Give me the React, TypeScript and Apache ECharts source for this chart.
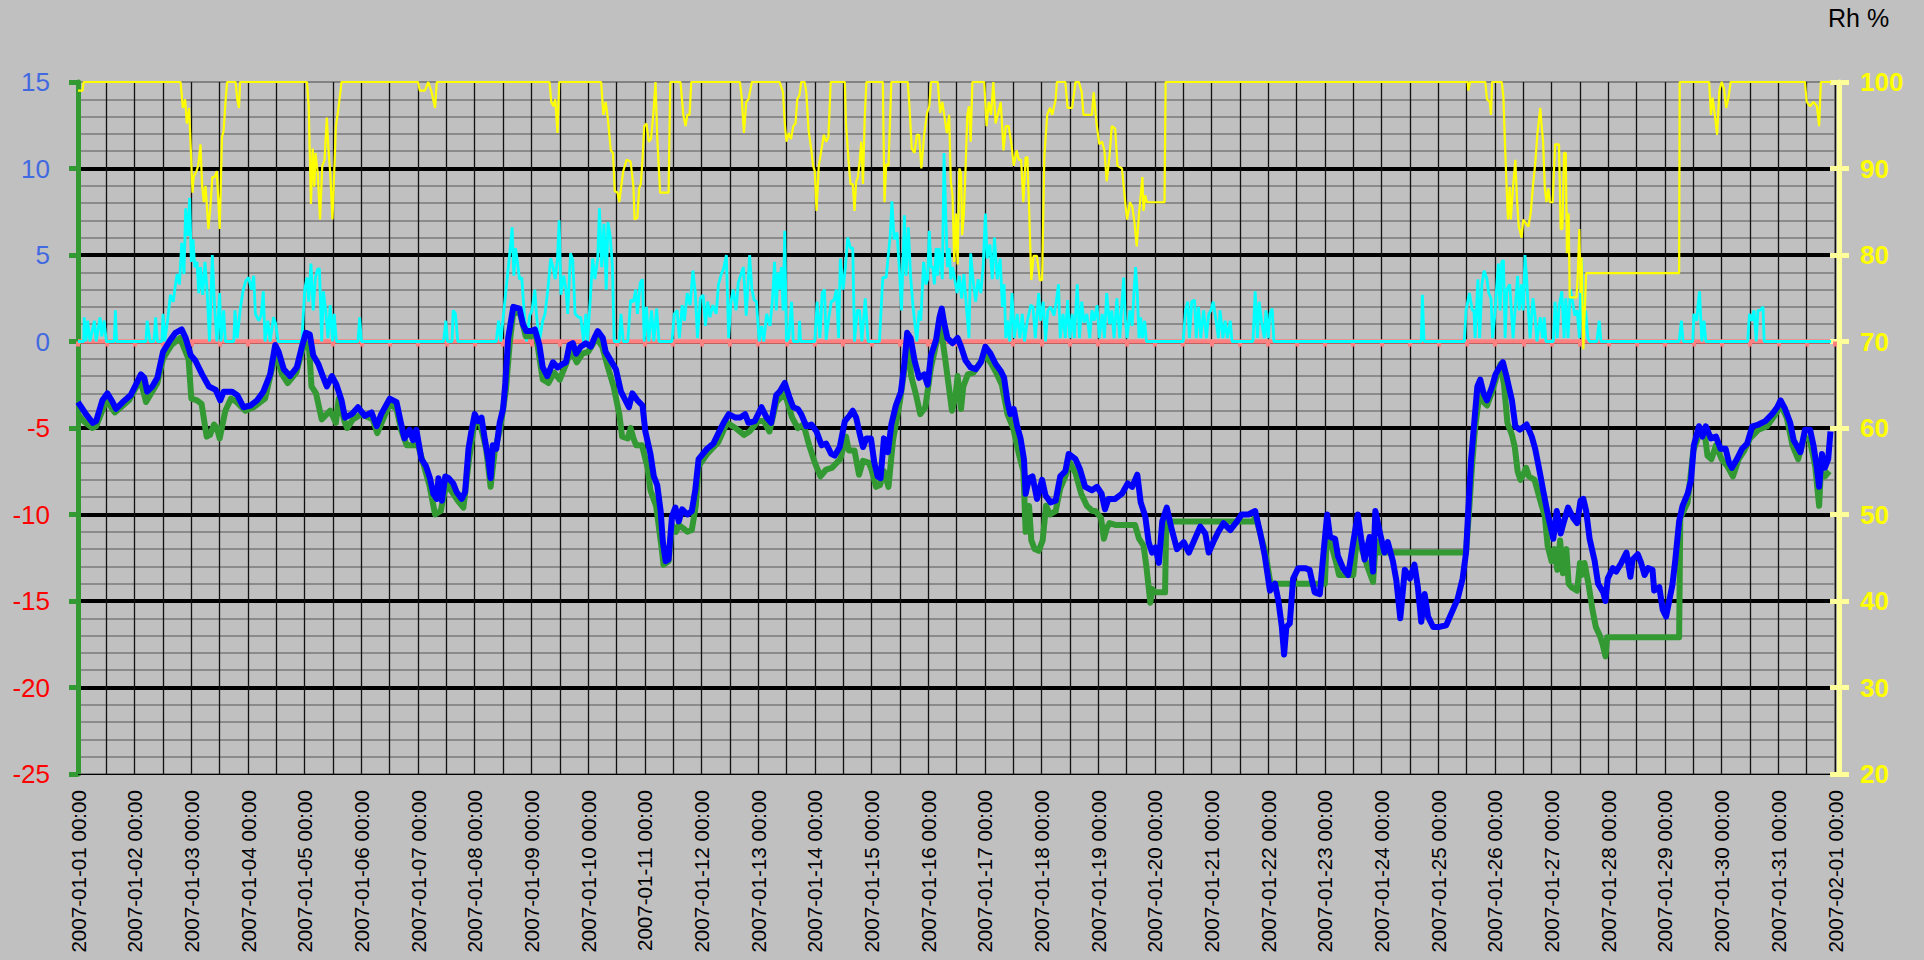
import React, { useEffect, useRef } from "react";
import * as echarts from "echarts";

// x values are days since 2007-01-01 00:00
const START_UTC = Date.UTC(2007, 0, 1);
const DAYS = 31;

// Air temperature (blue), left axis, °C
const tempBlue: [number, number][] = [
  [0.0,-3.5],[0.14,-4.2],[0.26,-4.7],[0.32,-4.6],[0.43,-3.4],[0.52,-3.0],[0.61,-3.5],[0.67,-3.9],[0.79,-3.5],[0.93,-3.1],
  [1.02,-2.5],[1.11,-1.9],[1.17,-2.1],[1.22,-2.9],[1.31,-2.6],[1.40,-2.1],[1.50,-0.6],[1.63,0.1],[1.72,0.5],[1.83,0.7],
  [1.90,0.2],[1.99,-0.8],[2.07,-1.1],[2.19,-1.9],[2.31,-2.6],[2.43,-2.8],[2.51,-3.4],[2.57,-2.9],[2.72,-2.9],[2.81,-3.1],
  [2.92,-3.8],[3.04,-3.7],[3.16,-3.4],[3.27,-2.9],[3.39,-1.9],[3.48,-0.2],[3.54,-0.6],[3.63,-1.6],[3.74,-2.0],[3.86,-1.5],
  [3.95,-0.3],[4.02,0.5],[4.09,0.4],[4.15,-0.8],[4.24,-1.3],[4.33,-2.1],[4.39,-2.6],[4.48,-2.0],[4.56,-2.5],[4.65,-3.4],
  [4.71,-4.4],[4.83,-4.2],[4.94,-3.8],[5.06,-4.3],[5.18,-4.1],[5.27,-4.9],[5.35,-4.2],[5.50,-3.3],[5.62,-3.5],[5.71,-4.9],
  [5.76,-5.6],[5.85,-5.1],[5.91,-5.7],[5.97,-5.1],[6.06,-6.8],[6.14,-7.2],[6.21,-7.9],[6.27,-8.8],[6.33,-9.1],[6.36,-7.9],
  [6.42,-9.2],[6.48,-7.8],[6.54,-7.9],[6.62,-8.2],[6.68,-8.7],[6.77,-9.1],[6.83,-8.7],[6.89,-6.2],[6.94,-5.2],[7.0,-4.2],
  [7.06,-4.6],[7.12,-4.4],[7.18,-5.7],[7.24,-6.8],[7.28,-7.9],[7.32,-6.0],[7.38,-6.2],[7.44,-4.7],[7.5,-3.9],[7.54,-2.4],
  [7.59,0.2],[7.68,2.0],[7.79,1.9],[7.85,1.0],[7.91,0.6],[8.0,0.6],[8.06,0.7],[8.14,-0.2],[8.2,-1.5],[8.28,-2.0],
  [8.38,-1.2],[8.46,-1.5],[8.55,-1.3],[8.61,-1.2],[8.67,-0.2],[8.73,-0.1],[8.79,-0.7],[8.87,-0.3],[8.96,-0.1],[9.05,-0.3],
  [9.11,0.2],[9.17,0.6],[9.26,0.2],[9.31,-0.6],[9.4,-1.1],[9.49,-1.6],[9.58,-2.9],[9.66,-3.4],[9.72,-3.8],[9.78,-3.0],
  [9.87,-3.4],[9.96,-3.7],[10.01,-5.2],[10.1,-6.5],[10.16,-7.8],[10.22,-8.3],[10.28,-9.8],[10.32,-11.6],[10.37,-12.7],[10.42,-12.6],
  [10.48,-10.1],[10.54,-9.6],[10.6,-10.4],[10.66,-9.7],[10.75,-10.0],[10.83,-9.8],[10.89,-8.6],[10.95,-6.8],[11.1,-6.2],[11.21,-5.9],
  [11.3,-5.3],[11.39,-4.7],[11.48,-4.2],[11.6,-4.4],[11.68,-4.4],[11.77,-4.2],[11.83,-4.7],[11.94,-4.6],[12.06,-3.8],[12.15,-4.4],
  [12.23,-4.7],[12.32,-3.1],[12.38,-2.9],[12.47,-2.4],[12.56,-3.3],[12.62,-3.8],[12.7,-3.9],[12.76,-4.2],[12.85,-4.9],[12.94,-4.8],
  [13.03,-5.2],[13.12,-6.0],[13.2,-5.9],[13.29,-6.5],[13.35,-6.6],[13.44,-6.1],[13.53,-4.6],[13.61,-4.3],[13.67,-4.0],[13.73,-4.4],
  [13.79,-5.3],[13.85,-6.1],[13.91,-5.6],[13.99,-5.6],[14.05,-7.0],[14.11,-7.8],[14.16,-7.9],[14.22,-5.6],[14.29,-6.4],[14.35,-4.8],
  [14.43,-3.7],[14.52,-2.9],[14.58,-1.3],[14.63,0.5],[14.69,0.2],[14.76,-1.1],[14.84,-2.1],[14.93,-1.9],[14.99,-2.5],[15.05,-0.8],
  [15.14,0.1],[15.2,1.4],[15.24,1.9],[15.28,1.1],[15.34,0.2],[15.43,-0.1],[15.52,0.2],[15.58,-0.3],[15.66,-1.1],[15.75,-1.5],
  [15.84,-1.6],[15.93,-1.2],[16.01,-0.3],[16.1,-0.7],[16.19,-1.3],[16.28,-1.7],[16.34,-2.1],[16.4,-3.5],[16.45,-4.2],[16.51,-3.9],
  [16.57,-4.9],[16.63,-5.6],[16.69,-6.8],[16.72,-8.8],[16.78,-7.9],[16.84,-7.8],[16.92,-9.1],[17.01,-8.0],[17.07,-8.9],[17.16,-9.3],
  [17.25,-9.2],[17.33,-7.8],[17.42,-7.5],[17.48,-6.5],[17.6,-6.8],[17.68,-7.4],[17.77,-8.4],[17.89,-8.6],[17.98,-8.4],[18.06,-8.8],
  [18.12,-9.7],[18.18,-9.1],[18.3,-9.1],[18.42,-8.8],[18.52,-8.2],[18.6,-8.4],[18.69,-7.7],[18.75,-9.3],[18.83,-10.1],[18.89,-11.6],
  [18.95,-12.2],[19.01,-11.9],[19.07,-12.8],[19.13,-10.4],[19.21,-9.6],[19.3,-10.9],[19.39,-12.0],[19.51,-11.6],[19.6,-12.2],[19.68,-11.6],
  [19.8,-10.7],[19.89,-11.1],[19.95,-12.2],[20.03,-11.6],[20.12,-11.0],[20.21,-10.5],[20.33,-10.9],[20.45,-10.4],[20.53,-10.0],[20.65,-10.0],
  [20.77,-9.8],[20.86,-11.1],[20.94,-12.4],[21.03,-14.4],[21.12,-14.0],[21.18,-15.0],[21.24,-16.5],[21.28,-18.1],[21.32,-16.5],[21.38,-16.3],
  [21.44,-13.7],[21.53,-13.1],[21.65,-13.1],[21.73,-13.2],[21.82,-14.5],[21.91,-14.6],[21.97,-12.4],[22.04,-10.0],[22.09,-11.3],[22.18,-11.4],
  [22.23,-12.4],[22.32,-13.1],[22.41,-13.5],[22.5,-11.6],[22.58,-10.0],[22.64,-11.4],[22.7,-12.6],[22.79,-11.3],[22.85,-13.3],[22.89,-9.8],
  [22.96,-10.9],[23.05,-12.2],[23.11,-11.6],[23.2,-12.7],[23.26,-13.8],[23.33,-16.0],[23.41,-13.2],[23.5,-13.7],[23.58,-12.9],[23.64,-14.2],
  [23.7,-16.2],[23.76,-14.6],[23.82,-15.9],[23.91,-16.5],[24.02,-16.5],[24.14,-16.4],[24.26,-15.5],[24.34,-14.9],[24.43,-13.7],[24.49,-12.2],
  [24.54,-9.1],[24.58,-6.8],[24.64,-4.5],[24.69,-2.6],[24.74,-2.2],[24.8,-3.0],[24.86,-3.4],[24.95,-2.6],[25.01,-1.9],[25.08,-1.5],
  [25.14,-1.2],[25.21,-2.1],[25.3,-3.4],[25.36,-4.9],[25.44,-5.1],[25.56,-4.8],[25.65,-5.5],[25.71,-6.2],[25.8,-7.7],[25.85,-8.6],
  [25.94,-10.1],[26.03,-11.4],[26.09,-9.8],[26.16,-11.1],[26.2,-10.6],[26.29,-9.6],[26.38,-10.2],[26.45,-10.5],[26.51,-9.2],[26.56,-9.1],
  [26.61,-9.8],[26.67,-11.4],[26.76,-12.7],[26.82,-14.0],[26.91,-14.5],[26.95,-15.0],[26.99,-13.7],[27.08,-13.1],[27.14,-13.3],[27.23,-12.8],
  [27.32,-12.2],[27.39,-13.6],[27.43,-12.6],[27.52,-12.3],[27.58,-12.8],[27.64,-13.5],[27.7,-13.1],[27.78,-13.2],[27.81,-14.4],[27.9,-14.2],
  [27.96,-15.5],[28.02,-15.9],[28.08,-14.9],[28.13,-14.1],[28.18,-12.7],[28.25,-10.4],[28.31,-9.5],[28.4,-8.8],[28.46,-8.0],[28.51,-6.0],
  [28.6,-4.9],[28.66,-5.5],[28.72,-4.9],[28.81,-5.6],[28.9,-5.5],[28.98,-6.2],[29.07,-6.2],[29.13,-7.0],[29.18,-7.3],[29.27,-6.8],
  [29.36,-6.2],[29.45,-5.9],[29.54,-4.9],[29.65,-4.8],[29.77,-4.6],[29.89,-4.2],[29.98,-3.8],[30.04,-3.4],[30.12,-3.9],[30.21,-4.7],
  [30.27,-5.7],[30.39,-6.4],[30.47,-5.1],[30.56,-5.1],[30.62,-6.0],[30.68,-7.3],[30.72,-8.4],[30.77,-6.5],[30.82,-7.3],[30.88,-6.8],
  [30.92,-5.2],
];

// Second temperature (green), left axis, °C
const tempGreen: [number, number][] = [
  [0.0,-4.2],[0.1,-4.6],[0.25,-5.0],[0.32,-4.9],[0.5,-3.4],[0.65,-4.1],[0.9,-3.4],[1.1,-2.2],[1.2,-3.5],[1.4,-2.4],
  [1.5,-1.0],[1.65,-0.2],[1.8,0.2],[1.95,-1.0],[2.0,-3.3],[2.1,-3.4],[2.18,-3.6],[2.27,-5.5],[2.33,-5.4],[2.4,-4.8],
  [2.45,-5.0],[2.5,-5.6],[2.6,-4.0],[2.7,-3.3],[2.8,-3.5],[2.95,-4.0],[3.1,-3.8],[3.3,-3.3],[3.45,-1.2],[3.5,-0.8],
  [3.6,-1.9],[3.7,-2.4],[3.85,-1.8],[4.0,0.0],[4.08,-0.5],[4.12,-2.6],[4.2,-3.0],[4.3,-4.5],[4.45,-4.0],[4.55,-4.7],
  [4.6,-3.3],[4.7,-4.6],[4.75,-5.0],[4.85,-4.5],[5.0,-4.2],[5.2,-4.5],[5.28,-5.3],[5.5,-3.6],[5.62,-3.9],[5.7,-5.1],
  [5.8,-6.0],[5.9,-6.0],[6.0,-6.0],[6.2,-8.3],[6.3,-10.0],[6.4,-9.8],[6.5,-8.2],[6.7,-9.2],[6.8,-9.6],[6.9,-6.8],
  [7.0,-4.6],[7.1,-4.8],[7.2,-6.2],[7.28,-8.4],[7.35,-6.4],[7.45,-5.0],[7.55,-2.8],[7.62,0.0],[7.68,1.7],[7.8,1.6],
  [7.9,0.3],[8.0,0.3],[8.08,0.4],[8.2,-2.2],[8.3,-2.4],[8.4,-1.8],[8.5,-2.2],[8.6,-1.4],[8.7,-0.5],[8.8,-1.2],
  [8.9,-0.7],[9.0,-0.6],[9.15,0.2],[9.25,-0.3],[9.35,-1.5],[9.45,-2.6],[9.55,-4.2],[9.6,-5.5],[9.7,-5.6],[9.75,-5.0],
  [9.8,-5.6],[9.85,-6.0],[9.95,-6.0],[10.05,-7.3],[10.1,-8.6],[10.2,-9.5],[10.3,-12.0],[10.33,-12.9],[10.42,-12.7],[10.48,-10.6],
  [10.55,-11.0],[10.6,-10.6],[10.68,-10.8],[10.75,-11.0],[10.83,-10.9],[10.9,-9.5],[10.95,-7.2],[11.1,-6.5],[11.3,-5.8],[11.45,-4.7],
  [11.6,-5.0],[11.75,-5.4],[11.85,-5.2],[12.0,-4.6],[12.1,-4.6],[12.2,-5.2],[12.32,-3.5],[12.47,-3.0],[12.6,-4.4],[12.7,-5.0],
  [12.8,-4.8],[12.9,-6.0],[13.0,-7.0],[13.1,-7.8],[13.2,-7.4],[13.3,-7.3],[13.45,-6.8],[13.55,-5.5],[13.6,-6.3],[13.7,-6.3],
  [13.78,-7.7],[13.85,-6.9],[13.95,-7.0],[14.0,-7.4],[14.08,-8.4],[14.15,-8.3],[14.22,-7.5],[14.3,-8.4],[14.38,-5.7],[14.5,-3.5],
  [14.6,-1.2],[14.65,0.0],[14.7,-2.0],[14.78,-3.0],[14.86,-4.2],[14.95,-3.8],[15.05,-1.5],[15.15,0.0],[15.22,0.9],[15.3,-1.0],
  [15.38,-3.0],[15.42,-4.0],[15.48,-3.2],[15.52,-2.0],[15.58,-3.9],[15.62,-2.6],[15.7,-1.9],[15.8,-1.8],[15.9,-1.3],[16.0,-0.8],
  [16.1,-1.2],[16.2,-1.8],[16.3,-2.5],[16.4,-4.2],[16.5,-5.0],[16.6,-6.5],[16.68,-7.5],[16.72,-11.0],[16.78,-9.5],[16.82,-11.5],
  [16.88,-12.0],[16.95,-12.1],[17.02,-11.5],[17.08,-9.5],[17.15,-10.0],[17.25,-9.8],[17.33,-8.5],[17.42,-7.8],[17.5,-7.0],[17.6,-7.6],
  [17.7,-8.8],[17.8,-9.5],[17.9,-9.8],[17.95,-9.8],[18.05,-10.2],[18.1,-11.4],[18.15,-10.8],[18.2,-10.5],[18.3,-10.6],[18.4,-10.6],
  [18.5,-10.6],[18.65,-10.6],[18.72,-11.4],[18.8,-11.8],[18.85,-13.0],[18.92,-15.1],[18.95,-14.3],[19.0,-14.5],[19.18,-14.5],[19.2,-10.4],
  [20.75,-10.4],[20.77,-10.0],[20.85,-11.0],[20.95,-12.2],[21.03,-13.8],[21.05,-14.0],[22.0,-14.0],[22.04,-10.5],[22.1,-11.6],[22.2,-12.8],
  [22.25,-13.5],[22.5,-13.5],[22.58,-10.8],[22.65,-12.0],[22.75,-13.0],[22.85,-13.9],[22.9,-11.5],[22.95,-12.2],[24.49,-12.2],[24.55,-9.5],
  [24.6,-7.0],[24.65,-5.0],[24.74,-2.7],[24.8,-3.5],[24.86,-3.7],[24.95,-2.9],[25.05,-1.8],[25.1,-1.3],[25.16,-2.5],[25.22,-4.7],
  [25.3,-5.4],[25.35,-6.1],[25.4,-7.5],[25.45,-8.0],[25.5,-7.7],[25.55,-7.3],[25.6,-7.8],[25.7,-8.0],[25.8,-9.2],[25.88,-10.1],
  [25.93,-11.8],[26.0,-12.7],[26.05,-12.0],[26.1,-13.2],[26.15,-11.5],[26.2,-13.4],[26.26,-12.0],[26.3,-14.0],[26.35,-14.2],[26.45,-14.4],
  [26.5,-12.8],[26.53,-13.5],[26.58,-12.8],[26.65,-14.0],[26.72,-15.5],[26.78,-16.5],[26.85,-17.0],[26.9,-17.5],[26.95,-18.2],[26.98,-17.1],
  [28.25,-17.1],[28.27,-10.2],[28.4,-9.3],[28.5,-6.3],[28.6,-5.4],[28.7,-5.3],[28.75,-6.6],[28.82,-6.8],[28.9,-6.0],[29.0,-6.8],
  [29.1,-7.2],[29.2,-7.8],[29.3,-6.8],[29.4,-6.3],[29.5,-5.6],[29.65,-5.1],[29.8,-4.9],[29.95,-4.2],[30.05,-3.7],[30.15,-4.4],
  [30.25,-6.0],[30.35,-6.8],[30.45,-5.6],[30.55,-5.6],[30.65,-7.2],[30.72,-9.5],[30.75,-7.5],[30.82,-7.8],[30.9,-7.5],
];

// Cyan series (left axis, >= 0)
const cyanVals: [number, number][] = [
  [0,0],[0.1,0],[0.11,1.4],[0.14,0],[0.17,1.2],[0.21,0],[0.29,1.2],[0.32,0],[0.39,1.4],[0.42,0.3],[0.46,1.2],[0.5,0],[0.64,0],[0.66,1.8],[0.68,0],
  [1.2,0],[1.22,1.2],[1.27,0],[1.34,0],[1.37,1.4],[1.4,0],[1.48,0],[1.5,1.6],[1.53,0],[1.58,1.2],[1.63,2.7],[1.68,2.3],[1.72,3.3],[1.75,3.9],
  [1.79,3.3],[1.83,5.7],[1.87,3.9],[1.9,7.7],[1.94,6.1],[1.97,8.3],[2.0,4.6],[2.03,5.9],[2.06,4.3],[2.1,4.6],[2.13,2.8],[2.16,4.3],[2.2,2.7],
  [2.24,4.6],[2.28,2.8],[2.32,0],[2.37,5.0],[2.41,2.0],[2.45,0],[2.5,2.8],[2.52,0],[2.57,1.8],[2.6,0],[2.75,0],[2.77,1.8],[2.81,0.2],[2.86,1.8],
  [2.91,2.9],[2.96,3.5],[3.01,3.7],[3.06,3.0],[3.1,3.8],[3.13,1.6],[3.19,1.2],[3.23,1.5],[3.27,2.9],[3.3,0],[3.35,1.2],[3.39,0],[3.45,1.4],
  [3.49,1.0],[3.53,0],[3.95,0],[4.0,3.0],[4.04,3.7],[4.07,2.3],[4.11,4.5],[4.15,1.8],[4.19,3.7],[4.23,4.2],[4.26,4.2],[4.3,0],[4.33,2.9],
  [4.37,1.8],[4.41,0.2],[4.45,2.1],[4.49,0],[4.52,1.6],[4.56,0],[4.94,0],[4.97,1.4],[5.0,0],
  [6.45,0],[6.49,1.2],[6.52,0],[6.6,0],[6.62,1.8],[6.66,1.6],[6.7,0],[7.38,0],[7.42,1.2],[7.46,0],[7.53,2.3],[7.58,3.9],[7.62,5.2],[7.66,6.6],
  [7.69,3.8],[7.72,5.4],[7.75,4.7],[7.79,3.6],[7.83,3.7],[7.87,1.8],[7.91,0],[7.97,1.5],[8.01,1.8],[8.06,3.0],[8.09,1.5],[8.14,0],[8.2,1.2],
  [8.24,1.6],[8.29,3.0],[8.34,4.8],[8.38,4.3],[8.42,3.6],[8.46,4.8],[8.49,7.0],[8.52,2.7],[8.57,3.8],[8.61,3.0],[8.64,1.6],[8.69,5.1],[8.73,4.7],
  [8.77,1.6],[8.83,1.4],[8.87,1.4],[8.92,0],[8.96,1.6],[8.99,0],[9.04,2.5],[9.08,4.8],[9.12,3.6],[9.17,4.8],[9.2,7.7],[9.24,4.3],[9.28,6.8],
  [9.32,3.0],[9.35,6.9],[9.39,6.1],[9.43,4.3],[9.46,0],[9.55,0],[9.58,1.6],[9.62,0],[9.7,0],[9.75,2.4],[9.8,2.3],[9.84,3.0],[9.87,1.6],[9.92,3.4],
  [9.96,3.6],[9.99,0],[10.03,2.0],[10.07,0],[10.12,1.8],[10.16,0],[10.21,1.9],[10.25,0],[10.48,0],[10.52,1.6],[10.57,1.8],[10.61,0.2],[10.66,2.1],
  [10.7,1.2],[10.75,2.8],[10.8,2.1],[10.85,4.1],[10.89,2.9],[10.93,0.2],[10.98,2.5],[11.03,2.7],[11.07,0.9],[11.11,2.3],[11.15,1.4],[11.2,2.1],
  [11.26,1.6],[11.3,3.3],[11.35,3.9],[11.39,4.2],[11.44,5.0],[11.48,0.2],[11.52,2.3],[11.56,3.0],[11.61,1.8],[11.65,3.4],[11.69,3.8],[11.74,4.3],
  [11.79,1.5],[11.85,5.0],[11.89,3.0],[11.93,2.4],[11.97,2.3],[12.02,0],[12.06,0.9],[12.1,0],[12.15,1.6],[12.21,0.9],[12.25,2.3],[12.29,4.6],
  [12.32,1.8],[12.35,4.0],[12.38,3.0],[12.41,4.3],[12.44,1.8],[12.47,6.4],[12.5,0],[12.54,0.2],[12.59,2.3],[12.62,0],[12.72,0],[12.73,1.2],[12.75,0],
  [13.0,0],[13.04,2.3],[13.09,0.2],[13.13,2.8],[13.17,3.0],[13.2,0.1],[13.24,1.2],[13.29,2.3],[13.34,2.4],[13.38,3.0],[13.42,0.2],[13.45,4.8],
  [13.5,3.0],[13.54,4.3],[13.58,6.0],[13.63,5.4],[13.67,5.4],[13.7,0],[13.75,1.8],[13.79,1.8],[13.83,0],[13.89,2.5],[13.94,0],[14.14,0],[14.2,3.7],
  [14.26,3.7],[14.3,5.1],[14.33,6.1],[14.36,8.1],[14.4,5.9],[14.45,6.3],[14.49,4.3],[14.53,1.8],[14.58,7.3],[14.61,3.8],[14.65,6.6],[14.69,3.8],
  [14.73,2.1],[14.76,1.2],[14.8,0],[14.84,1.8],[14.87,1.2],[14.92,4.6],[14.96,3.3],[14.99,3.6],[15.02,6.4],[15.05,4.3],[15.08,4.3],[15.11,3.3],
  [15.14,5.4],[15.17,3.8],[15.19,5.4],[15.22,4.8],[15.25,3.6],[15.28,10.9],[15.31,7.4],[15.34,4.3],[15.37,5.4],[15.4,3.6],[15.43,4.3],[15.47,3.6],
  [15.51,2.8],[15.55,3.8],[15.59,2.5],[15.63,3.9],[15.68,1.8],[15.72,0.2],[15.75,5.1],[15.8,3.3],[15.84,2.3],[15.88,3.6],[15.93,2.8],[15.97,4.3],
  [16.01,7.4],[16.04,4.8],[16.09,5.6],[16.13,3.6],[16.17,6.0],[16.22,3.6],[16.27,4.8],[16.31,2.0],[16.34,3.3],[16.37,0.2],[16.4,1.2],[16.44,0],
  [16.48,2.8],[16.52,0.2],[16.57,1.6],[16.62,0.2],[16.66,1.6],[16.7,0],[16.75,1.2],[16.81,2.1],[16.85,2.0],[16.89,0.2],[16.95,2.8],[16.98,1.2],
  [17.03,2.3],[17.07,0],[17.11,1.8],[17.16,2.0],[17.22,1.5],[17.26,2.3],[17.3,3.3],[17.33,0.2],[17.38,1.6],[17.42,0.2],[17.46,2.4],[17.5,0.2],
  [17.54,1.6],[17.58,0.2],[17.63,3.3],[17.67,0.2],[17.71,2.3],[17.75,1.1],[17.8,1.6],[17.85,0.2],[17.89,1.8],[17.93,1.2],[17.98,2.1],[18.02,0.2],
  [18.07,1.6],[18.11,0.2],[18.15,2.8],[18.2,1.0],[18.24,1.8],[18.28,0.2],[18.33,2.5],[18.38,0.2],[18.42,2.3],[18.45,3.7],[18.48,1.2],[18.51,0.2],
  [18.56,1.8],[18.6,0.9],[18.63,2.8],[18.66,4.3],[18.69,2.8],[18.72,0.2],[18.75,1.4],[18.78,0.2],[18.82,1.2],[18.85,0],
  [19.5,0],[19.54,1.8],[19.58,2.3],[19.61,0.2],[19.65,2.3],[19.7,2.4],[19.73,0.2],[19.77,2.0],[19.81,0.2],[19.86,1.8],[19.91,0.2],[19.95,1.6],
  [19.99,1.8],[20.03,2.3],[20.08,1.2],[20.12,0.2],[20.15,1.8],[20.2,0.2],[20.24,1.2],[20.28,0.2],[20.33,1.2],[20.36,0],[20.73,0],[20.77,2.9],
  [20.81,0.2],[20.84,2.3],[20.88,1.2],[20.93,0.2],[20.96,1.8],[21.0,0.2],[21.03,1.6],[21.07,1.9],[21.1,0],[23.7,0],[23.72,2.7],[23.75,0],
  [24.46,0],[24.49,1.8],[24.55,2.8],[24.6,1.8],[24.63,1.8],[24.65,0.2],[24.7,3.6],[24.73,0.2],[24.77,3.3],[24.81,4.1],[24.86,3.6],[24.89,2.8],
  [24.93,2.5],[24.96,0.2],[25.0,1.6],[25.04,3.6],[25.06,4.5],[25.09,1.8],[25.12,4.6],[25.15,4.7],[25.18,0.2],[25.21,3.0],[25.26,3.3],[25.29,1.8],
  [25.32,0.2],[25.36,2.0],[25.4,3.8],[25.43,1.8],[25.47,3.3],[25.5,1.8],[25.53,5.0],[25.56,3.6],[25.59,1.8],[25.62,0.2],[25.67,2.5],[25.71,1.4],
  [25.74,0],[25.8,1.4],[25.84,0.2],[25.87,1.4],[25.9,0],[26.03,0],[26.06,2.3],[26.1,0.2],[26.13,2.0],[26.18,2.9],[26.22,0.2],[26.25,2.5],
  [26.29,0.2],[26.33,3.0],[26.37,2.3],[26.41,1.5],[26.45,1.8],[26.49,0.2],[26.53,4.8],[26.56,0.2],[26.6,1.8],[26.64,0.2],[26.67,0],[26.8,0],
  [26.84,1.2],[26.87,0],[28.25,0],[28.29,1.2],[28.32,0],[28.49,0],[28.51,1.6],[28.56,1.2],[28.59,2.3],[28.61,2.9],[28.65,0],[28.69,1.2],[28.72,0],
  [29.46,0],[29.49,1.6],[29.53,1.2],[29.57,1.8],[29.61,0],[29.64,1.8],[29.68,1.8],[29.73,2.0],[29.75,0],[30.93,0],
];

// Relative humidity (yellow), right axis, %
const rhVals: [number, number][] = [
  [0,99.0],[0.08,99.0],[0.1,100],[1.81,100],[1.85,97.0],[1.89,98.0],[1.92,95.2],[1.96,97.0],[1.99,92.3],[2.02,87.2],[2.04,89.0],[2.09,89.7],
  [2.12,90.3],[2.16,92.8],[2.19,88.0],[2.22,86.1],[2.25,88.0],[2.3,83.0],[2.34,85.9],[2.37,89.0],[2.41,89.0],[2.45,89.7],[2.5,83.0],[2.54,93.6],
  [2.57,94.4],[2.6,97.5],[2.63,100],[2.78,100],[2.81,98.0],[2.84,97.0],[2.86,100],[4.04,100],[4.07,97.2],[4.11,85.9],[4.14,92.3],[4.17,87.9],
  [4.19,91.8],[4.23,89.5],[4.27,84.1],[4.31,90.3],[4.35,91.0],[4.39,95.9],[4.42,92.1],[4.45,89.5],[4.49,84.1],[4.52,89.5],[4.55,94.9],[4.59,96.7],
  [4.65,100],[6.0,100],[6.03,99.0],[6.12,99.0],[6.18,100],[6.24,98.8],[6.3,97.0],[6.33,100],[8.32,100],[8.35,97.7],[8.39,97.2],[8.42,98.0],
  [8.46,94.1],[8.49,100],[9.23,100],[9.27,96.2],[9.31,97.7],[9.35,95.7],[9.4,92.1],[9.44,91.8],[9.47,87.4],[9.52,87.2],[9.55,86.1],[9.59,88.2],
  [9.62,89.7],[9.68,91.0],[9.75,90.8],[9.8,87.9],[9.82,84.1],[9.87,84.3],[9.9,87.7],[9.93,88.2],[9.96,91.0],[9.99,94.9],[10.03,95.2],[10.07,93.1],
  [10.11,93.4],[10.15,96.2],[10.19,100],[10.22,93.6],[10.27,87.2],[10.42,87.2],[10.45,100],[10.63,100],[10.68,96.2],[10.72,94.9],[10.75,96.2],
  [10.79,96.2],[10.82,100],[11.68,100],[11.71,98.2],[11.75,94.1],[11.79,97.7],[11.83,98.0],[11.89,100],[12.38,100],[12.44,98.8],[12.47,95.2],
  [12.5,93.1],[12.54,94.1],[12.58,93.4],[12.62,94.9],[12.66,95.2],[12.69,98.0],[12.73,98.5],[12.76,100],[12.82,100],[12.85,98.8],[12.89,94.4],
  [12.94,92.1],[12.97,90.3],[13.0,89.7],[13.03,85.1],[13.07,90.3],[13.12,92.3],[13.16,93.9],[13.2,93.1],[13.24,93.6],[13.28,100],[13.53,100],
  [13.55,95.2],[13.6,90.5],[13.63,88.2],[13.67,88.2],[13.7,85.1],[13.73,88.5],[13.76,89.0],[13.79,90.8],[13.82,93.1],[13.85,88.2],[13.88,95.7],
  [13.91,100],[14.2,100],[14.23,86.1],[14.26,90.5],[14.3,90.3],[14.35,100],[14.64,100],[14.67,97.2],[14.71,92.3],[14.76,91.8],[14.8,93.9],
  [14.84,93.9],[14.88,90.0],[14.93,93.9],[14.98,96.4],[15.02,97.2],[15.05,100],[15.17,100],[15.21,96.4],[15.25,97.7],[15.29,95.9],[15.33,94.1],
  [15.37,96.2],[15.4,88.5],[15.43,86.9],[15.46,79.2],[15.49,84.8],[15.52,78.9],[15.55,90.0],[15.58,89.5],[15.6,82.3],[15.63,84.8],[15.66,90.0],
  [15.69,96.2],[15.72,97.2],[15.75,93.1],[15.78,100],[15.99,100],[16.03,94.9],[16.07,97.7],[16.11,96.2],[16.15,100],[16.19,95.2],[16.23,96.2],
  [16.28,97.7],[16.33,92.1],[16.37,94.9],[16.42,94.9],[16.47,92.8],[16.51,90.3],[16.56,92.1],[16.6,91.0],[16.64,91.0],[16.68,86.1],[16.72,91.3],
  [16.75,91.3],[16.78,85.6],[16.82,77.1],[16.86,79.9],[16.92,79.9],[16.97,77.1],[17.01,77.1],[17.05,91.5],[17.1,96.2],[17.15,97.0],[17.19,96.2],
  [17.25,98.0],[17.27,100],[17.42,100],[17.46,97.0],[17.54,97.0],[17.6,100],[17.66,100],[17.71,98.8],[17.74,96.2],[17.89,96.2],[17.92,98.8],
  [17.97,95.2],[18.02,92.8],[18.07,93.1],[18.11,92.1],[18.15,88.5],[18.2,91.5],[18.24,94.9],[18.3,94.6],[18.34,90.3],[18.42,90.0],[18.48,85.9],
  [18.51,84.1],[18.56,86.1],[18.6,85.6],[18.64,83.8],[18.68,81.0],[18.72,84.8],[18.78,89.0],[18.8,85.1],[18.83,86.9],[18.86,86.1],[19.17,86.1],
  [19.19,100],[24.52,100],[24.53,99.0],[24.56,100],[24.83,100],[24.86,98.0],[24.91,97.7],[24.93,96.2],[24.95,100],[25.12,100],[25.15,98.2],
  [25.18,92.3],[25.21,87.2],[25.23,84.1],[25.26,87.9],[25.28,84.1],[25.32,87.9],[25.36,91.0],[25.39,86.4],[25.42,83.3],[25.44,82.8],[25.47,82.0],
  [25.5,84.1],[25.55,83.6],[25.59,83.3],[25.63,84.8],[25.67,87.9],[25.71,90.5],[25.75,94.1],[25.8,97.0],[25.82,95.2],[25.85,93.1],[25.88,87.7],
  [25.91,86.1],[25.94,87.7],[25.97,86.1],[26.02,86.1],[26.06,92.8],[26.13,92.8],[26.16,83.0],[26.19,83.0],[26.22,91.8],[26.25,91.8],[26.27,80.2],
  [26.3,84.8],[26.32,75.1],[26.44,75.1],[26.46,77.6],[26.49,83.0],[26.51,75.6],[26.53,79.7],[26.56,69.1],[26.59,74.5],[26.61,77.9],[28.25,77.9],
  [28.26,100],[28.78,100],[28.81,96.2],[28.84,98.2],[28.88,96.2],[28.92,93.9],[28.96,99.0],[29.0,100],[29.04,99.3],[29.08,97.0],[29.12,98.2],
  [29.16,100],[30.47,100],[30.5,97.7],[30.56,97.2],[30.62,97.7],[30.68,97.2],[30.72,94.9],[30.75,100],[30.93,100],
];

const leftMin = -25, leftMax = 15, leftStep = 5;
const rightMin = 20, rightMax = 100, rightStep = 10;
const rightAxisTitle = "Rh %";

const FONT = "'Liberation Sans', Arial, Helvetica, sans-serif";

function dayLabel(v: number): string {
  const dt = new Date(START_UTC + Math.round(v) * 86400000);
  const p = (n: number) => (n < 10 ? "0" + n : "" + n);
  return `${dt.getUTCFullYear()}-${p(dt.getUTCMonth() + 1)}-${p(dt.getUTCDate())} 00:00`;
}

export default function App() {
  const ref = useRef<HTMLDivElement>(null);
  useEffect(() => {
    if (!ref.current) return;
    const chart = echarts.init(ref.current, undefined, { renderer: "svg" });
    const option: any = {
      animation: false,
      backgroundColor: "#c0c0c0",
      textStyle: { fontFamily: FONT },
      grid: {
        left: 78, right: 89, top: 82, bottom: 186,
        show: true, borderColor: "#444", borderWidth: 1, backgroundColor: "transparent",
      },
      graphic: [
        { type: "text", left: 1828, top: 5, style: { text: rightAxisTitle, fontSize: 25, fill: "#000", fontFamily: FONT } },
      ],
      xAxis: [
        {
          type: "value", min: 0, max: DAYS, interval: 1, position: "bottom",
          axisLine: { show: true, onZero: false, lineStyle: { color: "#000", width: 1 } },
          axisTick: { show: false },
          axisLabel: {
            rotate: 90, margin: 16, fontSize: 20.6, color: "#000", fontFamily: FONT,
            formatter: (v: number) => dayLabel(v), showMinLabel: true, showMaxLabel: true,
          },
          splitLine: { show: true, lineStyle: { color: "#111", width: 1.3 } },
          minorTick: { show: true, splitNumber: 2, length: 0 },
          minorSplitLine: { show: true, lineStyle: { color: "#111", width: 1.3 } },
        },
        {
          type: "value", min: 0, max: DAYS, interval: 0.5, position: "top",
          axisLine: { show: true, onZero: true, onZeroAxisIndex: 0, lineStyle: { color: "#ff8080", width: 4.5 } },
          axisTick: { show: true, inside: true, length: 5, lineStyle: { color: "#ff8080", width: 4 } },
          axisLabel: { show: false },
          splitLine: { show: false },
        },
      ],
      yAxis: [
        {
          type: "value", min: leftMin, max: leftMax, interval: leftStep, position: "left",
          axisLine: { show: true, onZero: false, lineStyle: { color: "#339933", width: 5 } },
          axisTick: { show: true, length: 9, lineStyle: { color: "#339933", width: 5 } },
          axisLabel: {
            margin: 28, fontSize: 26, fontFamily: FONT,
            color: (v: any) => (Number(v) >= 0 ? "#4169e1" : "#ff0000"),
          },
          splitLine: { show: true, showMinLine: false, showMaxLine: false, lineStyle: { color: "#000", width: 4 } },
          minorTick: { show: true, splitNumber: 5, length: 0 },
          minorSplitLine: { show: true, lineStyle: { color: "#7a7a7a", width: 1.5 } },
        },
        {
          type: "value", min: rightMin, max: rightMax, interval: rightStep, position: "right", offset: 4,
          axisLine: { show: true, onZero: false, lineStyle: { color: "#ffff99", width: 5 } },
          axisTick: { show: true, length: 10, lineStyle: { color: "#ffff99", width: 5 } },
          axisLabel: { margin: 21, fontSize: 26, fontWeight: "bold", color: "#ffff00", fontFamily: FONT },
          splitLine: { show: false },
        },
        {
          type: "value", min: rightMin, max: rightMax, interval: rightStep, position: "right", offset: 4,
          axisLine: { show: false, onZero: false },
          axisTick: { show: true, inside: true, length: 9, lineStyle: { color: "#ffff99", width: 5 } },
          axisLabel: { show: false },
          splitLine: { show: false },
        },
      ],
      series: [
        {
          name: "cyan", type: "line", xAxisIndex: 0, yAxisIndex: 0, data: cyanVals, symbol: "none",
          lineStyle: { color: "#00ffff", width: 2.8 }, itemStyle: { color: "#00ffff" }, z: 2,
        },
        {
          name: "Rh", type: "line", xAxisIndex: 0, yAxisIndex: 1, data: rhVals, symbol: "none",
          lineStyle: { color: "#ffff00", width: 2.2 }, itemStyle: { color: "#ffff00" }, z: 3,
        },
        {
          name: "green", type: "line", xAxisIndex: 0, yAxisIndex: 0, data: tempGreen, symbol: "none",
          lineStyle: { color: "#339933", width: 6, join: "round" }, itemStyle: { color: "#339933" }, z: 4,
        },
        {
          name: "blue", type: "line", xAxisIndex: 0, yAxisIndex: 0, data: tempBlue, symbol: "none",
          lineStyle: { color: "#0000ff", width: 6, join: "round" }, itemStyle: { color: "#0000ff" }, z: 5,
        },
      ],
    };
    chart.setOption(option);
    return () => chart.dispose();
  }, []);
  return (
    <div
      ref={ref}
      style={{ position: "fixed", left: 0, top: 0, width: 1924, height: 960, background: "#c0c0c0" }}
    />
  );
}
